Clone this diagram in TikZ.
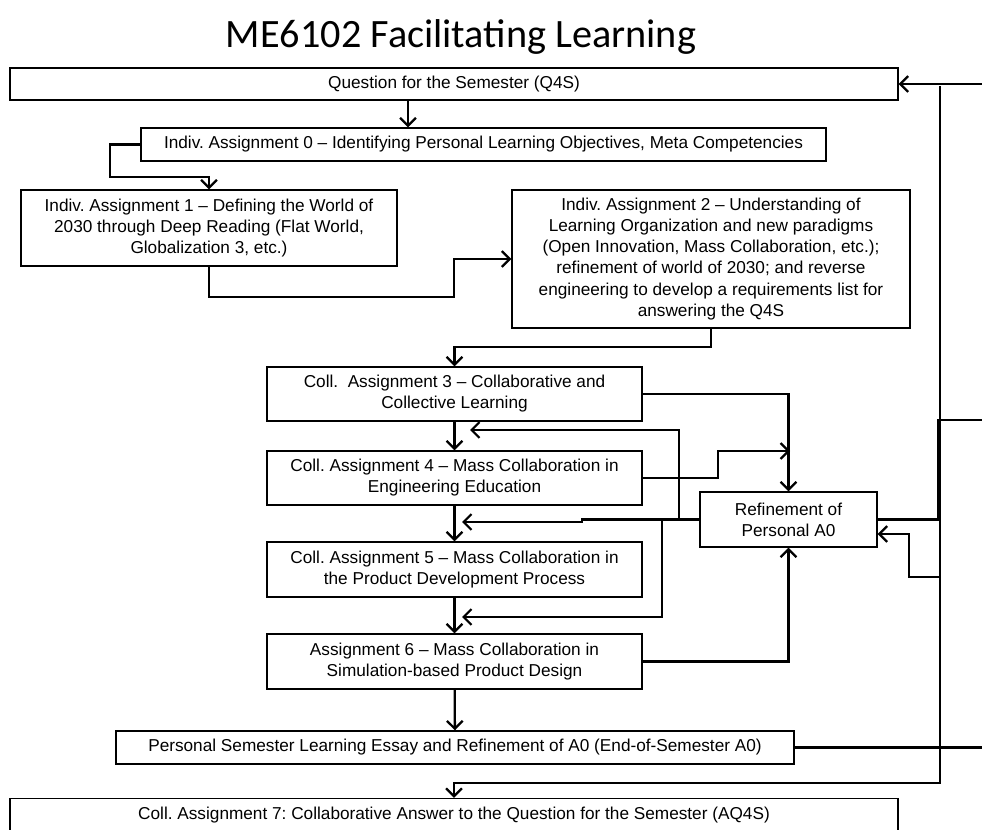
\documentclass[tikz,border=0pt]{standalone}
\usepackage{fontspec}
\setmainfont{Liberation Sans}
\newfontfamily\titlefont{Carlito}
\usetikzlibrary{arrows.meta}
\frenchspacing

\begin{document}
\begin{tikzpicture}[x=0.02cm, y=-0.02cm,
    box/.style={draw, line width=0.75pt, fill=white, inner sep=0pt, align=center,
                font=\fontsize{9.8}{12}\selectfont},
    arr/.style={line width=1.3pt, -{Straight Barb[length=4.5pt,width=9pt]}},
    wire/.style={line width=1.3pt}]
        \useasboundingbox (0,0) rectangle (982,830);
        \clip (0,0) rectangle (982,830);

        \node[font=\titlefont] (title) at (461,37) {\fontsize{22.9}{26}\selectfont ME6102 Facilitating Learning};

        \node[box, minimum width=17.76cm, minimum height=0.64cm] (q4s) at (454,84) {Question for the Semester (Q4S)};
        \node[box, minimum width=13.70cm, minimum height=0.66cm] (a0) at (483.5,144.5) {Indiv. Assignment 0 -- Identifying Personal Learning Objectives, Meta Competencies};
        \node[box, minimum width=7.52cm, minimum height=1.52cm] (a1) at (209,228) {Indiv. Assignment 1 -- Defining the World of\\2030 through Deep Reading (Flat World,\\Globalization 3, etc.)};
        \node[box, minimum width=7.96cm, minimum height=2.76cm] (a2) at (711,259) {Indiv. Assignment 2 -- Understanding of\\Learning Organization and new paradigms\\(Open Innovation, Mass Collaboration, etc.);\\refinement of world of 2030; and reverse\\engineering to develop a requirements list for\\answering the Q4S};
        \node[box, minimum width=7.50cm, minimum height=1.08cm] (a3) at (454.5,394) {Coll.\ \ Assignment 3 -- Collaborative and\\Collective Learning};
        \node[box, minimum width=7.50cm, minimum height=1.08cm] (a4) at (454.5,478) {Coll. Assignment 4 -- Mass Collaboration in\\Engineering Education};
        \node[box, minimum width=7.50cm, minimum height=1.10cm] (a5) at (454.5,569.5) {Coll. Assignment 5 -- Mass Collaboration in\\the Product Development Process};
        \node[box, minimum width=7.50cm, minimum height=1.10cm] (a6) at (454.5,661.5) {Assignment 6 -- Mass Collaboration in\\Simulation-based Product Design};
        \node[box, minimum width=3.54cm, minimum height=1.10cm] (ref) at (788.5,519.5) {Refinement of\\Personal A0};
        \node[box, minimum width=13.56cm, minimum height=0.66cm] (essay) at (455,747.5) {Personal Semester Learning Essay and Refinement of A0 (End-of-Semester A0)};
        \node[box, minimum width=17.76cm, minimum height=0.66cm] (a7) at (454,815) {Coll. Assignment 7: Collaborative Answer to the Question for the Semester (AQ4S)};

        % free ends at the right border
        \coordinate (q4s in) at (982,84);
        \coordinate (ref out) at (982,420);
        \coordinate (essay out) at (982,747.5);
        \coordinate (bus top) at (940,86);
        \coordinate (bus low) at (940,577);

        % individual assignments
        \draw[arr] (q4s.south -| 408,0) -- (a0.north -| 408,0);
        \draw[arr] (a0.west) -| (110,177) -| (a1.north);
        \draw[arr] (a1.south) |- (454,297) |- (a2.west);
        \draw[arr] (a2.south) -- (711,347) -| (a3.north);

        % collaborative assignments
        \draw[arr] (a3) -- (a4);
        \draw[arr] (a4) -- (a5);
        \draw[arr] (a5) -- (a6);
        \draw[arr] (a6) -- (essay);

        % into and out of the refinement
        \draw[arr] (a3.east) -| (ref.north);
        \draw[arr] (a4.east) -- (718,478) |- (790,451);
        \draw[arr] (a6.east) -| (ref.south);
        \draw[arr] (ref.west) -- (582,519.5) -- (582,522) -- (462,522);
        \draw[arr] (679,519.5) |- (470,430);
        \draw[arr] (662,519.5) |- (462,617);
        \draw[wire] (ref.east) -- (938.5,519.5) |- (ref out);
        \draw[arr] (bus low) -| (909,534) -- (ref.east |- 909,534);

        % feedback bus on the right
        \draw[arr] (q4s in) -- (q4s.east);
        \draw[wire] (essay.east) -- (essay out);
        \draw[arr] (bus top) |- (454,783) -- (a7.north);

\end{tikzpicture}
\end{document}
